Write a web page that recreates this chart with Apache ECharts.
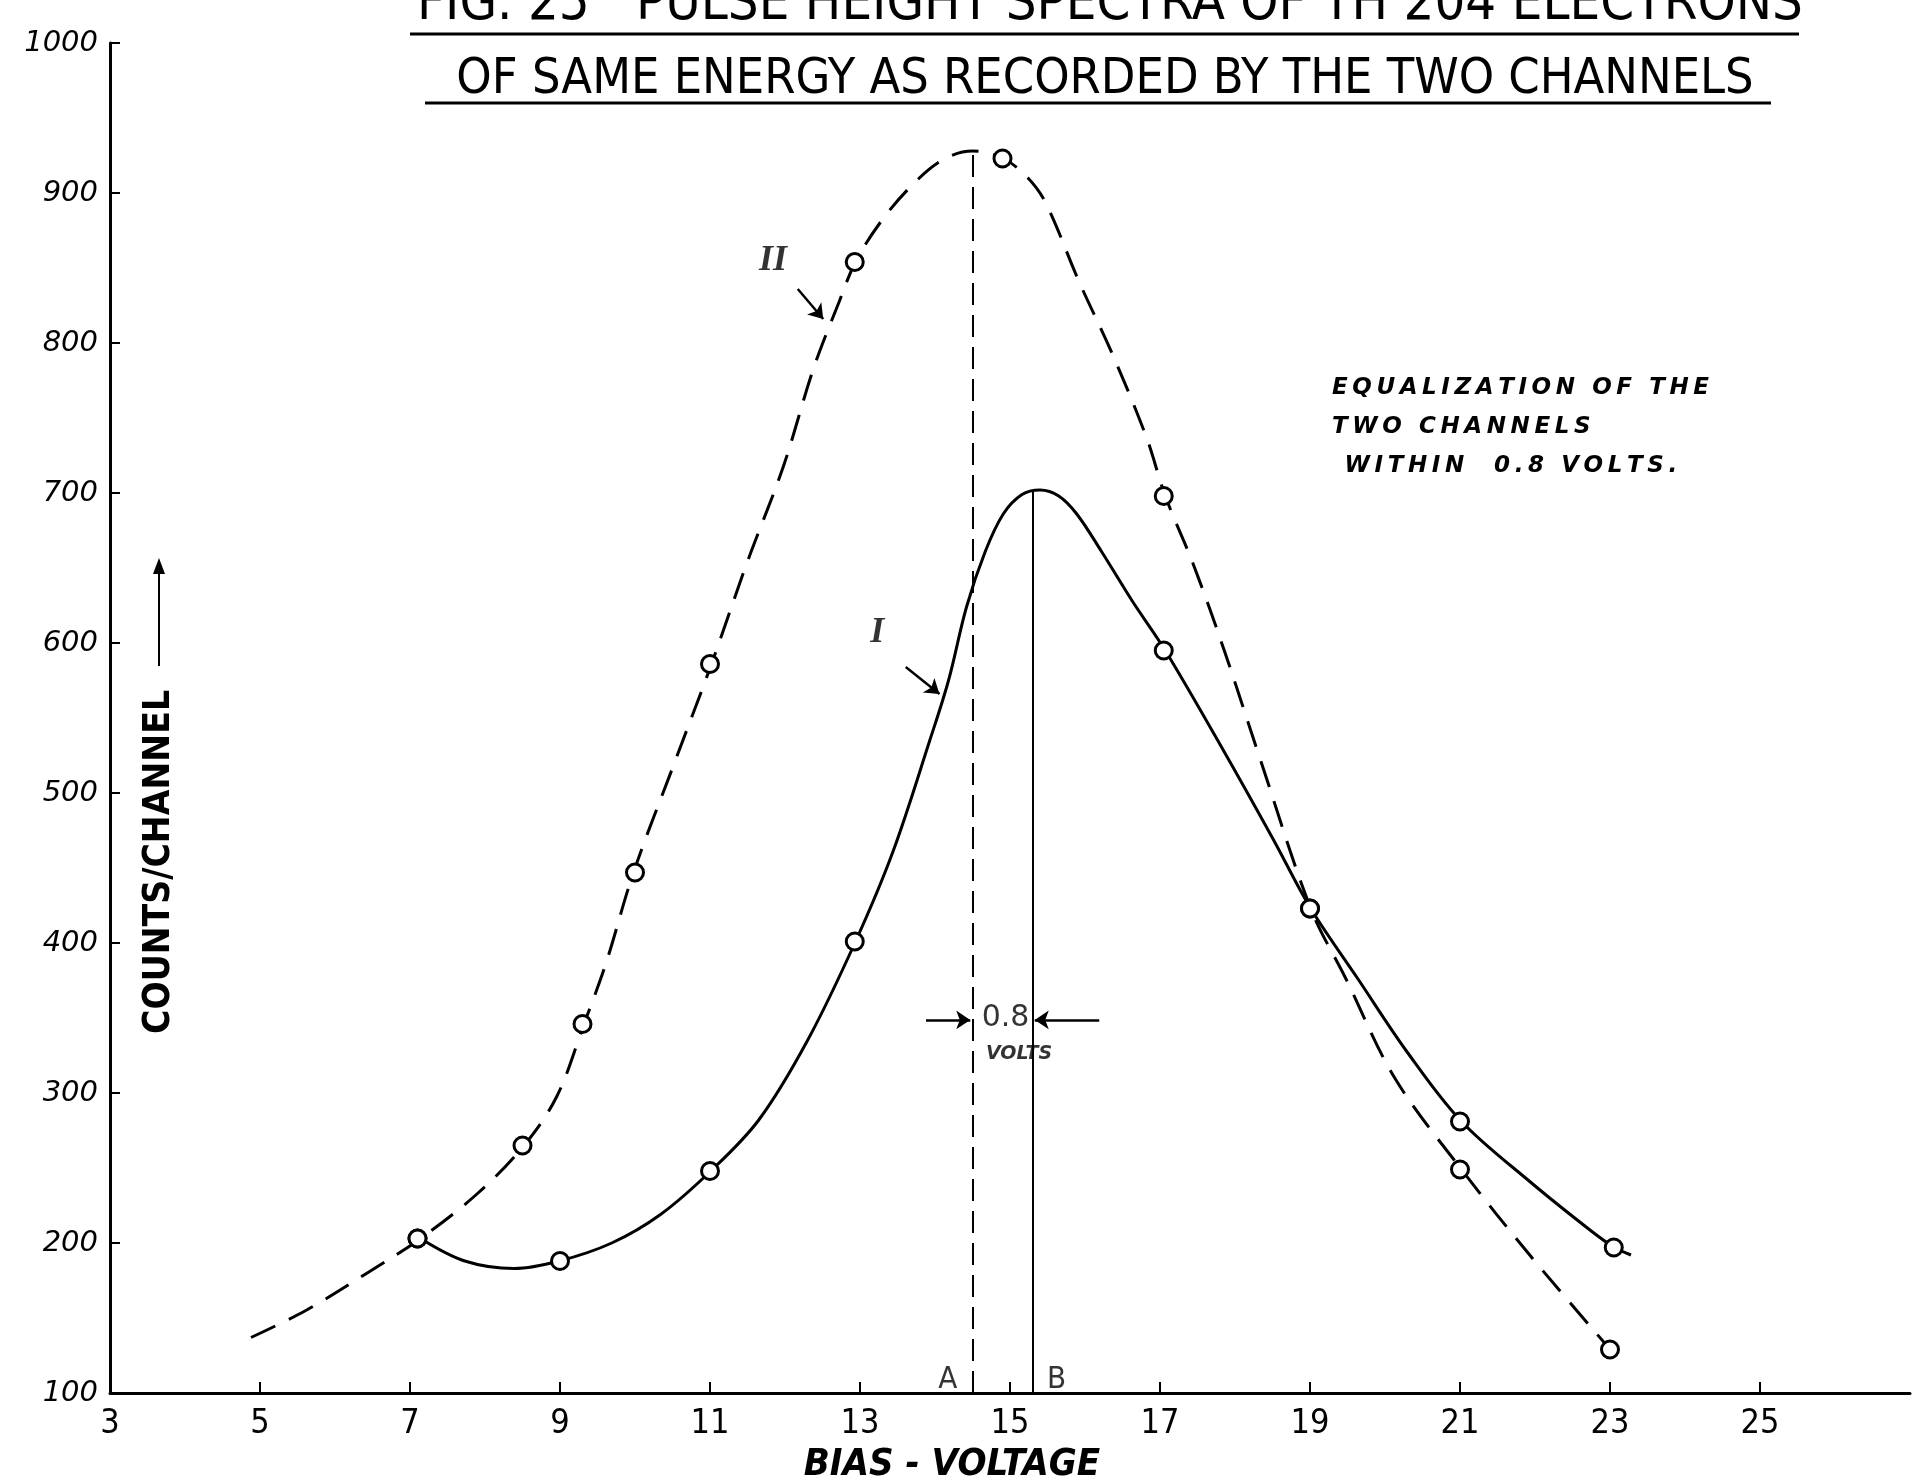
<!DOCTYPE html>
<html>
<head>
<meta charset="utf-8">
<script src="https://cdn.jsdelivr.net/npm/echarts@6/dist/echarts.min.js"></script>
<style>
html,body{margin:0;padding:0;background:#fff;overflow:hidden;}
#c{width:1919px;height:1482px;}
</style>
</head>
<body>
<div id="c"></div>
<script>
// ---- data ----
// x-axis ticks (bias voltage) and y-axis ticks (counts/channel)
var xTicks = [3,5,7,9,11,13,15,17,19,21,23,25];
var yTicks = [100,200,300,400,500,600,700,800,900,1000];

// measured points, curve II (dashed)
var pointsII = [[7.1,203],[8.5,265],[9.3,346],[10.0,447],[11.0,586],[12.93,854],[14.9,923],[17.05,698],[19.0,423],[21.0,249],[23.0,129]];
// measured points, curve I (solid)
var pointsI = [[7.1,203],[9.0,188],[11.0,248],[12.93,401],[17.05,595],[19.0,423],[21.0,281],[23.05,197]];

// hand-drawn curve II (dashed)
var curveII = [[4.88,137],[5.61,155],[6.43,180],[7.14,203],[7.90,233],[8.52,265],[8.96,298],[9.32,346],[9.61,386],[9.98,447],[10.51,518],[11.02,586],[11.49,653],[11.98,718],[12.38,783],[12.71,826],[12.94,854],[13.28,881],[13.69,905],[14.10,922],[14.50,928],[14.91,923],[15.24,910],[15.48,893],[15.92,841],[16.37,792],[16.82,737],[17.07,698],[17.44,653],[17.85,596],[18.34,522],[19.01,423],[19.48,376],[20.13,310],[21.02,249],[21.93,192],[23.02,128]];
// hand-drawn curve I (solid)
var curveI = [[7.14,203],[7.73,188],[8.39,183],[8.99,188],[9.69,200],[10.34,219],[11.01,248],[11.65,282],[12.30,335],[12.94,401],[13.44,461],[13.93,535],[14.18,575],[14.42,624],[14.67,661],[14.91,686],[15.16,699],[15.40,702],[15.65,698],[15.89,686],[16.22,661],[16.63,628],[17.07,595],[17.85,528],[18.50,470],[19.01,423],[19.64,376],[20.30,327],[21.02,281],[21.93,241],[22.75,208],[23.06,197],[23.28,192]];

// channel bias markers
var lineA = 14.5, lineB = 15.3, peakII = 928, peakI = 702;

var titleLines = ['FIG. 25   PULSE HEIGHT SPECTRA OF TH 204 ELECTRONS', 'OF SAME ENERGY AS RECORDED BY THE TWO CHANNELS'];
var noteLines = ['EQUALIZATION OF THE', 'TWO CHANNELS', ' WITHIN  0.8 VOLTS.'];

function spaced(s){ return s.split('').join('\u2009'); }

var chart = echarts.init(document.getElementById('c'), null, {renderer:'canvas'});
var BLK = '#000';
var narrow = "'Liberation Sans Narrow','DejaVu Sans Condensed',sans-serif";
var handIt = "'DejaVu Sans',sans-serif";

function txt(x, y, s, style) {
  return {value:[x,y], label:Object.assign({show:true, formatter:s, color:BLK, position:'inside'}, style)};
}

var option = {
  animation:false,
  backgroundColor:'#fff',
  grid:{left:110, right:9, top:43, bottom:89, containLabel:false, outerBoundsMode:'none'},
  xAxis:{
    type:'value', min:3, max:27, interval:2,
    axisLine:{show:true, onZero:false, lineStyle:{color:BLK, width:3}},
    axisTick:{show:true, inside:true, length:11, lineStyle:{color:BLK, width:2}},
    splitLine:{show:false},
    axisLabel:{color:BLK, fontFamily:narrow, fontSize:34, margin:14, showMaxLabel:false,
      formatter:function(v){ return xTicks.indexOf(v) >= 0 ? String(v) : ''; }},
    name:'BIAS - VOLTAGE', nameLocation:'middle', nameGap:52,
    nameTextStyle:{color:BLK, fontFamily:narrow, fontStyle:'italic', fontWeight:'bold', fontSize:38, padding:[0,116,0,0]}
  },
  yAxis:{
    type:'value', min:100, max:1000, interval:100,
    axisLine:{show:true, onZero:false, lineStyle:{color:BLK, width:3}},
    axisTick:{show:true, inside:true, length:10, lineStyle:{color:BLK, width:2}},
    splitLine:{show:false},
    axisLabel:{color:BLK, fontFamily:"'DejaVu Sans',sans-serif", fontStyle:'italic', fontSize:29, margin:12,
      formatter:function(v){ return yTicks.indexOf(v) >= 0 ? String(v) : ''; }}
  },
  series:[
    {type:'line', name:'II', data:curveII, smooth:0.35, showSymbol:false, z:3,
      lineStyle:{color:BLK, width:3, type:[27,15]},
      markLine:{silent:true, symbol:['none','none'], label:{show:false},
        lineStyle:{color:BLK, width:2, type:[22,10]},
        data:[[{coord:[lineA,100]},{coord:[lineA,peakII]}]]}
    },
    {type:'line', name:'I', data:curveI, smooth:0.35, showSymbol:false, z:3,
      lineStyle:{color:BLK, width:3, type:'solid'},
      markLine:{silent:true, symbol:['none','none'], label:{show:false},
        lineStyle:{color:BLK, width:2, type:'solid'},
        data:[[{coord:[lineB,100]},{coord:[lineB,peakI]}]]}
    },
    {type:'scatter', name:'II points', data:pointsII, symbol:'circle', symbolSize:17, z:5,
      itemStyle:{color:'#fff', borderColor:BLK, borderWidth:3, opacity:1}},
    {type:'scatter', name:'I points', data:pointsI, symbol:'circle', symbolSize:17, z:5,
      itemStyle:{color:'#fff', borderColor:BLK, borderWidth:3, opacity:1}},
    // arrows
    {type:'line', data:[], z:4,
      markLine:{silent:true, symbol:['none','arrow'], symbolSize:14, label:{show:false},
        lineStyle:{color:BLK, width:2.5, type:'solid'},
        data:[
          [{coord:[13.88,348.7]},{coord:[14.47,348.7]}],
          [{coord:[16.19,348.7]},{coord:[15.33,348.7]}],
          [{coord:[12.17,836]},{coord:[12.51,816]}],
          [{coord:[13.61,584]},{coord:[14.06,566]}]
        ]}
    },
    // text annotations at data positions
    {type:'scatter', symbolSize:1, itemStyle:{color:'rgba(0,0,0,0)'}, z:6, silent:true,
      data:[
        txt(14.17,109,'A',{fontFamily:narrow, fontSize:31}),
        txt(15.62,109,'B',{fontFamily:narrow, fontSize:31}),
        txt(11.84,855,'II',{fontFamily:"'Liberation Serif',serif", fontStyle:'italic', fontWeight:'bold', fontSize:36}),
        txt(13.23,607,'I',{fontFamily:"'Liberation Serif',serif", fontStyle:'italic', fontWeight:'bold', fontSize:36}),
        txt(14.94,350,'0.8',{fontFamily:"'DejaVu Sans',sans-serif", fontSize:30}),
        txt(15.12,326,'VOLTS',{fontFamily:handIt, fontStyle:'italic', fontWeight:'bold', fontSize:19})
      ]}
  ],
  graphic:[
    {type:'text', style:{text:titleLines[0], fill:BLK, font:"54px "+narrow, textAlign:'center', textVerticalAlign:'middle'}, position:[1110,5], z:10},
    {type:'line', shape:{x1:410, y1:34, x2:1799, y2:34}, style:{stroke:BLK, lineWidth:3}, z:10},
    {type:'text', style:{text:titleLines[1], fill:BLK, font:"50px "+narrow, textAlign:'center', textVerticalAlign:'middle'}, position:[1105,80], z:10},
    {type:'line', shape:{x1:425, y1:103, x2:1771, y2:103}, style:{stroke:BLK, lineWidth:3}, z:10},
    {type:'text', style:{text:noteLines.map(spaced).join('\n'), fill:BLK, font:"italic bold 23px "+handIt, lineHeight:39, textAlign:'left', textVerticalAlign:'top'}, position:[1332,369], z:10},
    {type:'group', position:[159,1034], rotation:Math.PI/2, z:10, children:[
      {type:'text', style:{text:'COUNTS/CHANNEL', fill:BLK, font:"bold 37px "+narrow, textAlign:'left', textVerticalAlign:'middle'}, position:[0,0]},
      {type:'line', shape:{x1:368, y1:0, x2:462, y2:0}, style:{stroke:BLK, lineWidth:2}},
      {type:'polygon', shape:{points:[[476,0],[460,-6],[460,6]]}, style:{fill:BLK}}
    ]}
  ]
};
chart.setOption(option);
</script>
</body>
</html>
